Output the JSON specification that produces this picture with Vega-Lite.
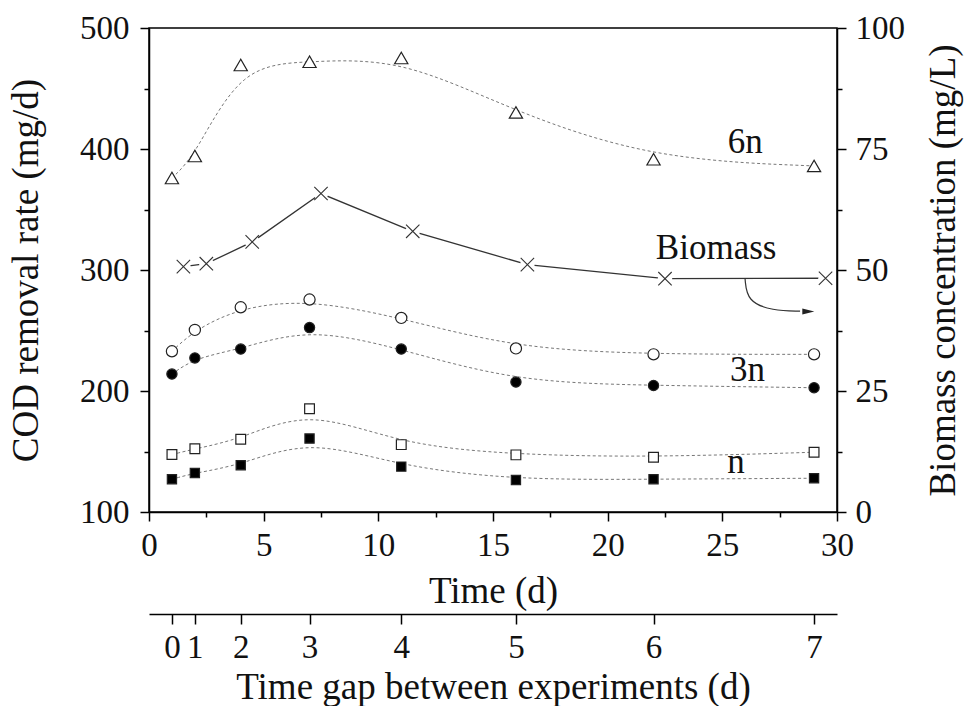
{
  "$schema": "https://vega.github.io/schema/vega-lite/v6.json",
  "width": 688,
  "height": 484,
  "autosize": {"type": "none"},
  "padding": {"left": 149, "top": 28, "right": 127, "bottom": 194},
  "background": "white",
  "datasets": {
    "cod": [
      {"series": "6n", "time": 1, "cod": 376},
      {"series": "6n", "time": 2, "cod": 394.2},
      {"series": "6n", "time": 4, "cod": 469.4},
      {"series": "6n", "time": 7, "cod": 472.1},
      {"series": "6n", "time": 11, "cod": 475.2},
      {"series": "6n", "time": 16, "cod": 430.2},
      {"series": "6n", "time": 22, "cod": 391.5},
      {"series": "6n", "time": 29, "cod": 386},
      {"series": "3n open", "time": 1, "cod": 232.8},
      {"series": "3n open", "time": 2, "cod": 250.5},
      {"series": "3n open", "time": 4, "cod": 269.2},
      {"series": "3n open", "time": 7, "cod": 275.6},
      {"series": "3n open", "time": 11, "cod": 260.4},
      {"series": "3n open", "time": 16, "cod": 235.2},
      {"series": "3n open", "time": 22, "cod": 230.3},
      {"series": "3n open", "time": 29, "cod": 230.3},
      {"series": "3n filled", "time": 1, "cod": 214},
      {"series": "3n filled", "time": 2, "cod": 227.3},
      {"series": "3n filled", "time": 4, "cod": 234.7},
      {"series": "3n filled", "time": 7, "cod": 252.4},
      {"series": "3n filled", "time": 11, "cod": 234.7},
      {"series": "3n filled", "time": 16, "cod": 207.4},
      {"series": "3n filled", "time": 22, "cod": 204.6},
      {"series": "3n filled", "time": 29, "cod": 202.7},
      {"series": "n open", "time": 1, "cod": 147.5},
      {"series": "n open", "time": 2, "cod": 152.2},
      {"series": "n open", "time": 4, "cod": 160.2},
      {"series": "n open", "time": 7, "cod": 185.3},
      {"series": "n open", "time": 11, "cod": 155.7},
      {"series": "n open", "time": 16, "cod": 147.2},
      {"series": "n open", "time": 22, "cod": 145.3},
      {"series": "n open", "time": 29, "cod": 149.4},
      {"series": "n filled", "time": 1, "cod": 127.1},
      {"series": "n filled", "time": 2, "cod": 132.3},
      {"series": "n filled", "time": 4, "cod": 138.7},
      {"series": "n filled", "time": 7, "cod": 160.7},
      {"series": "n filled", "time": 11, "cod": 137.5},
      {"series": "n filled", "time": 16, "cod": 126.5},
      {"series": "n filled", "time": 22, "cod": 127.1},
      {"series": "n filled", "time": 29, "cod": 127.9}
    ],
    "labels": [
      {"text": "6n", "time": 26.0, "cod": 397},
      {"text": "Biomass", "time": 24.73, "cod": 309.3},
      {"text": "3n", "time": 26.1, "cod": 207.9},
      {"text": "n", "time": 25.6, "cod": 132}
    ],
    "bio": [
      {"time": 1.5, "biomass": 50.7},
      {"time": 2.5, "biomass": 51.3},
      {"time": 4.5, "biomass": 55.8},
      {"time": 7.5, "biomass": 65.8},
      {"time": 11.5, "biomass": 58.0},
      {"time": 16.5, "biomass": 51.1},
      {"time": 22.5, "biomass": 48.2},
      {"time": 29.5, "biomass": 48.3}
    ],
    "arrow": [
      {"time": 25.99, "biomass": 48.24},
      {"time": 26.08, "biomass": 43.48},
      {"time": 27.2, "biomass": 41.6},
      {"time": 28.39, "biomass": 41.5}
    ],
    "arrowhead": [
      {"time": 28.75, "biomass": 41.45}
    ],
    "gap": [
      {"time": 1, "gap": 0},
      {"time": 2, "gap": 1},
      {"time": 4, "gap": 2},
      {"time": 7, "gap": 3},
      {"time": 11, "gap": 4},
      {"time": 16, "gap": 5},
      {"time": 22, "gap": 6},
      {"time": 29, "gap": 7}
    ]
  },
  "layer": [
    {
      "encoding": {
        "x": {
          "field": "time",
          "type": "quantitative",
          "scale": {"domain": [0, 30], "nice": false, "zero": false},
          "axis": {
            "orient": "bottom",
            "title": "Time (d)",
            "values": [0, 2.5, 5, 7.5, 10, 12.5, 15, 17.5, 20, 22.5, 25, 27.5, 30],
            "labelExpr": "datum.value % 5 === 0 ? datum.label : ''",
            "tickSize": {"expr": "datum.value % 5 === 0 ? 9 : 5"},
            "labelPadding": 8,
            "titlePadding": 11,
            "labelOverlap": false,
            "labelFlush": false
          }
        }
      },
      "layer": [
        {
          "encoding": {
            "y": {
              "field": "cod",
              "type": "quantitative",
              "scale": {"domain": [100, 500], "nice": false, "zero": false},
              "axis": {
                "orient": "left",
                "title": "COD removal rate (mg/d)",
                "values": [100, 150, 200, 250, 300, 350, 400, 450, 500],
                "labelExpr": "datum.value % 100 === 0 ? datum.label : ''",
                "tickSize": {"expr": "datum.value % 100 === 0 ? 9 : 5"},
                "labelPadding": 11,
                "titlePadding": 34,
                "labelOverlap": false,
                "labelFlush": false
              }
            }
          },
          "layer": [
            {
              "data": {"name": "cod"},
              "mark": {"type": "line", "interpolate": "basis", "color": "#777777", "strokeWidth": 1, "strokeDash": [3, 2.5]},
              "encoding": {"detail": {"field": "series", "type": "nominal"}}
            },
            {
              "data": {"name": "cod"},
              "mark": {"type": "point", "filled": true, "stroke": "#222222", "strokeWidth": 1.2, "opacity": 1},
              "encoding": {
                "shape": {"field": "series", "type": "nominal", "legend": null,
                  "scale": {"domain": ["6n", "3n open", "3n filled", "n open", "n filled"], "range": ["triangle-up", "circle", "circle", "square", "square"]}},
                "fill": {"field": "series", "type": "nominal", "legend": null,
                  "scale": {"domain": ["6n", "3n open", "3n filled", "n open", "n filled"], "range": ["#ffffff", "#ffffff", "#000000", "#ffffff", "#000000"]}},
                "size": {"field": "series", "type": "nominal", "legend": null,
                  "scale": {"type": "ordinal", "domain": ["6n", "3n open", "3n filled", "n open", "n filled"], "range": [175, 125, 105, 95, 85]}}
              }
            },
            {
              "data": {"name": "labels"},
              "mark": {"type": "text", "font": "Liberation Serif", "fontSize": 35, "align": "center", "baseline": "alphabetic", "color": "#111111"},
              "encoding": {"text": {"field": "text", "type": "nominal"}}
            }
          ]
        },
        {
          "encoding": {
            "y": {
              "field": "biomass",
              "type": "quantitative",
              "scale": {"domain": [0, 100], "nice": false, "zero": false},
              "axis": {
                "orient": "right",
                "title": "Biomass concentration (mg/L)",
                "values": [0, 12.5, 25, 37.5, 50, 62.5, 75, 87.5, 100],
                "labelExpr": "datum.value % 25 === 0 ? datum.label : ''",
                "tickSize": {"expr": "datum.value % 25 === 0 ? 9 : 5"},
                "labelPadding": 9,
                "titlePadding": 21,
                "titleAngle": 270,
                "titleBaseline": "top",
                "labelOverlap": false,
                "labelFlush": false
              }
            }
          },
          "layer": [
            {
              "data": {"name": "bio"},
              "mark": {"type": "line", "color": "#333333", "strokeWidth": 1.3},
              "encoding": {}
            },
            {
              "data": {"name": "bio"},
              "mark": {"type": "point", "filled": true, "fill": "#ffffff", "opacity": 1, "shape": "circle", "size": 210, "strokeWidth": 0}
            },
            {
              "data": {"name": "bio"},
              "mark": {"type": "point", "filled": false, "stroke": "#333333", "strokeWidth": 1.1, "opacity": 1, "shape": "M-1,-1L1,1M-1,1L1,-1", "size": 180}
            },
            {
              "data": {"name": "arrow"},
              "mark": {"type": "line", "interpolate": "basis", "color": "#333333", "strokeWidth": 1.2},
              "encoding": {}
            },
            {
              "data": {"name": "arrowhead"},
              "mark": {"type": "point", "filled": true, "fill": "#222222", "opacity": 1, "strokeWidth": 0, "shape": "M1,0L-1,-0.5L-1,0.5Z", "size": 144}
            }
          ]
        }
      ],
      "resolve": {"scale": {"y": "independent"}}
    },
    {
      "data": {"name": "gap"},
      "mark": {"type": "point", "opacity": 0},
      "encoding": {
        "x": {
          "field": "time",
          "type": "quantitative",
          "scale": {"domain": [0, 30], "nice": false, "zero": false},
          "axis": {
            "orient": "bottom",
            "offset": 102,
            "title": "Time gap between experiments (d)",
            "values": [1, 2, 4, 7, 11, 16, 22, 29],
            "labelExpr": "indexof([1, 2, 4, 7, 11, 16, 22, 29], datum.value)",
            "tickSize": 10,
            "labelPadding": 7,
            "titlePadding": 5,
            "labelOverlap": false,
            "labelFlush": false
          }
        }
      }
    }
  ],
  "resolve": {"scale": {"x": "independent"}},
  "config": {
    "font": "Liberation Serif",
    "view": {"stroke": "#000000", "strokeWidth": 1.5},
    "axis": {
      "domainColor": "#000000",
      "domainWidth": 1.5,
      "tickColor": "#000000",
      "tickWidth": 1.5,
      "labelColor": "#111111",
      "titleColor": "#111111",
      "labelFont": "Liberation Serif",
      "titleFont": "Liberation Serif",
      "titleFontWeight": "normal",
      "labelFontSize": 33,
      "titleFontSize": 37,
      "grid": false
    }
  }
}
